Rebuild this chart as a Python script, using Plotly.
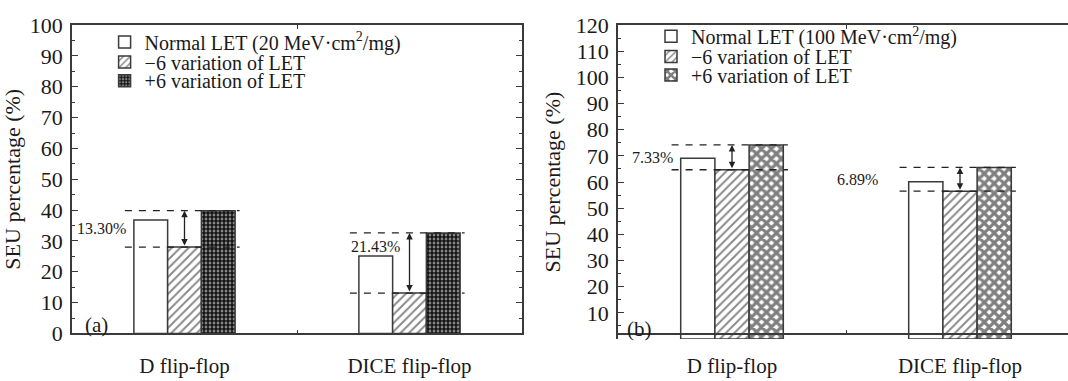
import plotly.graph_objects as go

categories = ["D flip-flop", "DICE flip-flop"]

# Panel (a): LET = 20 MeV·cm2/mg
a_normal = [36.8, 25.1]
a_minus6 = [28.0, 13.1]
a_plus6 = [39.8, 32.6]
a_pct_labels = ["13.30%", "21.43%"]

# Panel (b): LET = 100 MeV·cm2/mg
b_normal = [69.1, 60.1]
b_minus6 = [64.7, 56.5]
b_plus6 = [74.2, 65.6]
b_pct_labels = ["7.33%", "6.89%"]

a_names = ["Normal LET (20 MeV·cm<sup>2</sup>/mg)", "−6 variation of LET", "+6 variation of LET"]
b_names = ["Normal LET (100 MeV·cm<sup>2</sup>/mg)", "−6 variation of LET", "+6 variation of LET"]

W, H = 1068, 381
FONT = "Liberation Serif, Times New Roman, Times, serif"
TXT = "#1a1a1a"
LINE = "#3a3a3a"

def px_x(p):
    return p / W

def px_y(p):
    return 1 - p / H

fig = go.Figure()

white = dict(color="white", line=dict(color=LINE, width=1.5))
hatch = dict(color="white", line=dict(color=LINE, width=1.5),
             pattern=dict(shape="/", fgcolor="#111", bgcolor="white", size=6, solidity=0.32))
dots = dict(color="black", line=dict(color=LINE, width=1.5),
            pattern=dict(shape=".", fgcolor="white", bgcolor="#111", size=4, solidity=0.4))
cross = dict(color="white", line=dict(color=LINE, width=1.5),
             pattern=dict(shape="x", fgcolor="#000", bgcolor="white", size=7, solidity=0.7))

a_markers = [white, hatch, dots]
b_markers = [white, hatch, cross]
a_series = [a_normal, a_minus6, a_plus6]
b_series = [b_normal, b_minus6, b_plus6]

legend_names = ["legend", "legend2", "legend3", "legend4", "legend5", "legend6"]
for i in range(3):
    fig.add_trace(go.Bar(x=categories, y=a_series[i], name=a_names[i], marker=a_markers[i],
                         xaxis="x", yaxis="y", legend=legend_names[i], offsetgroup=str(i)))
for i in range(3):
    fig.add_trace(go.Bar(x=categories, y=b_series[i], name=b_names[i], marker=b_markers[i],
                         xaxis="x2", yaxis="y2", legend=legend_names[3 + i], offsetgroup=str(i)))

shapes = []
annotations = []

def add_marks(xref, yref, lows, highs, labels, label_mode):
    for i in range(len(categories)):
        lo, hi = lows[i], highs[i]
        for yv in (lo, hi):
            shapes.append(dict(type="line", xref=xref, yref=yref, x0=i - 0.265, x1=i + 0.245,
                               y0=yv, y1=yv, line=dict(color="#222", width=1.3, dash="7px,7px")))
        annotations.append(dict(xref=xref, yref=yref, x=i, y=hi, ax=i, ay=lo,
                                axref=xref, ayref=yref, text="", showarrow=True,
                                arrowhead=2, arrowsize=1, arrowwidth=1.3, arrowside="end+start",
                                arrowcolor="#222", standoff=0, startstandoff=0))
        mode = label_mode[i]
        if mode == "mid":
            annotations.append(dict(xref=xref, yref=yref, x=i - 0.25, y=(lo + hi) / 2,
                                    text=labels[i], showarrow=False, xanchor="right",
                                    yanchor="middle", font=dict(family=FONT, size=16, color=TXT)))
        elif mode == "midfar":
            annotations.append(dict(xref=xref, yref=yref, x=i - 0.35, y=(lo + hi) / 2,
                                    text=labels[i], showarrow=False, xanchor="right",
                                    yanchor="middle", font=dict(family=FONT, size=16, color=TXT)))
        else:
            annotations.append(dict(xref=xref, yref=yref, x=i - 0.27, y=hi - 4.4,
                                    text=labels[i], showarrow=False, xanchor="left",
                                    yanchor="middle", font=dict(family=FONT, size=16, color=TXT)))

add_marks("x", "y", a_minus6, a_plus6, a_pct_labels, ["mid", "below"])
add_marks("x2", "y2", b_minus6, b_plus6, b_pct_labels, ["mid", "midfar"])

annotations.append(dict(xref="paper", yref="paper", x=px_x(83), y=px_y(335), text="(a)",
                        showarrow=False, xanchor="left", yanchor="middle",
                        font=dict(family=FONT, size=21, color=TXT)))
annotations.append(dict(xref="paper", yref="paper", x=px_x(625), y=px_y(339), text="(b)",
                        showarrow=False, xanchor="left", yanchor="middle",
                        font=dict(family=FONT, size=21, color=TXT)))

tickfont = dict(family=FONT, size=22, color=TXT)

def xaxis(domain, rng):
    return dict(domain=domain, range=rng, type="category", tickson="boundaries",
                ticks="inside", ticklen=4, tickcolor=LINE, showline=True, linecolor=LINE,
                linewidth=1.5, mirror="ticks", showgrid=False, zeroline=False,
                tickfont=dict(family=FONT, size=21, color=TXT), ticklabelstandoff=13,
                fixedrange=True)

legend_rows = [(px_x(104.6), px_y(32)), (px_x(104.6), px_y(53.5)), (px_x(104.6), px_y(73.5)),
               (px_x(651), px_y(26)), (px_x(651), px_y(47.5)), (px_x(651), px_y(67.5))]
layout_legends = {}
for name, (lx, ly) in zip(legend_names, legend_rows):
    layout_legends[name] = dict(x=lx, y=ly, xanchor="left", yanchor="middle",
                                bgcolor="rgba(0,0,0,0)", borderwidth=0,
                                font=dict(family=FONT, size=20, color=TXT))

fig.update_layout(
    width=W, height=H, margin=dict(l=0, r=0, t=0, b=0),
    paper_bgcolor="white", plot_bgcolor="white",
    font=dict(family=FONT, color=TXT),
    barmode="group", bargap=0.55, bargroupgap=0,
    showlegend=True,
    xaxis=xaxis([px_x(72), px_x(522)], [-0.5, 1.5]),
    xaxis2=xaxis([px_x(618), 1.0], [-0.5, 1.5 - 6 / 228]),
    yaxis=dict(domain=[px_y(344), px_y(14)], range=[0, 100], anchor="x",
               tickmode="linear", tick0=0, dtick=10, ticks="inside", ticklen=6,
               tickcolor=LINE, minor=dict(dtick=5, ticks="inside", ticklen=3, tickcolor=LINE),
               showline=True, linecolor=LINE, linewidth=1.5, mirror="ticks",
               showgrid=False, zeroline=False, tickfont=tickfont, ticklabelstandoff=3,
               title=dict(text="SEU percentage (%)", font=dict(family=FONT, size=22, color=TXT),
                          standoff=4),
               fixedrange=True),
    yaxis2=dict(domain=[px_y(350), px_y(14)], range=[0, 120], anchor="x2",
                tickmode="array", tickvals=list(range(0, 121, 10)),
                ticktext=[""] + [str(v) for v in range(10, 121, 10)],
                ticks="inside", ticklen=6, tickcolor=LINE,
                minor=dict(tickmode="array", tickvals=list(range(5, 120, 10)), ticks="inside",
                           ticklen=3, tickcolor=LINE),
                showline=True, linecolor=LINE, linewidth=1.5, mirror=False,
                showgrid=False, zeroline=False, tickfont=tickfont, ticklabelstandoff=3,
                title=dict(text="SEU percentage (%)", font=dict(family=FONT, size=22, color=TXT),
                           standoff=9),
                fixedrange=True),
    shapes=shapes, annotations=annotations,
    **layout_legends,
)

fig.write_html("out.html", config={"displayModeBar": False},
               post_script="document.body.style.margin='0';")
